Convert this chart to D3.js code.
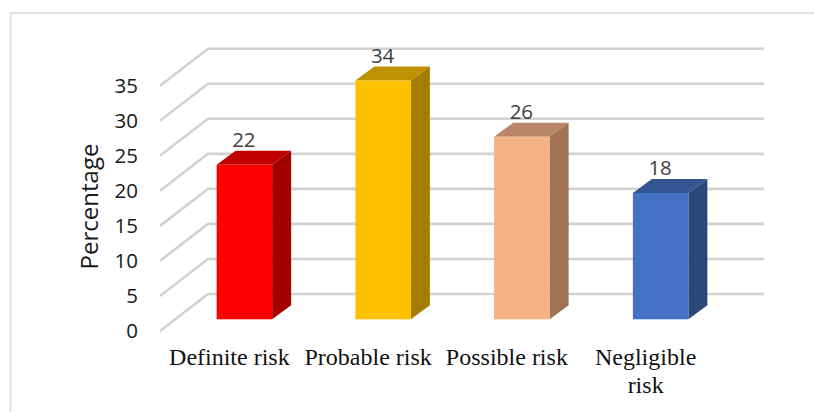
<!DOCTYPE html>
<html>
<head>
<meta charset="utf-8">
<script src="https://cdn.jsdelivr.net/npm/d3@7"></script>
<style>
  html, body { margin: 0; padding: 0; background: #fff; }
  svg { display: block; }
</style>
</head>
<body>
<div id="chart"></div>
<script>
// Values
var categories = ["Definite risk", "Probable risk", "Possible risk", "Negligible risk"];
var values = [22, 34, 26, 18];
var yTicks = [0, 5, 10, 15, 20, 25, 30, 35];
var frontColors = ["#ff0000", "#ffc000", "#f4b183", "#4472c4"];
var sideColors = ["#a50000", "#a67c00", "#9f7353", "#2c4779"];
var topColors = ["#bf0000", "#bf9000", "#b9866a", "#335593"];

var width = 814, height = 412;
var depthX = 19, depthY = 14;      // bar depth
var wallX = 48, wallY = 37;        // floor depth, front edge to back wall

var svg = d3.select("#chart").append("svg")
  .attr("width", width)
  .attr("height", height);

// Chart frame, cropped on the right and at the bottom
svg.append("path")
  .attr("d", "M10.5," + height + "V13H" + width)
  .attr("fill", "none")
  .attr("stroke", "#d9d9d9")
  .attr("stroke-width", 1.6);

var x = d3.scaleBand()
  .domain(categories)
  .range([175, 730])
  .paddingInner(0.6)
  .paddingOuter(0.3);

var yBar = d3.scaleLinear().domain([0, 35]).range([319.3, 73.6]);
var yWall = d3.scaleLinear().domain([0, 35]).range([294, 48.7]);

// Gridlines run along the side wall, then across the back wall
svg.append("g")
  .selectAll("path")
  .data(yTicks)
  .join("path")
  .attr("d", function (d) {
    var yb = yWall(d);
    return "M160," + (yb + wallY) + "L" + (160 + wallX) + "," + yb + "H764";
  })
  .attr("fill", "none")
  .attr("stroke", "#d2d2d2")
  .attr("stroke-width", 2.6);

var yAxis = d3.axisLeft(d3.scaleLinear().domain([0, 35]).range([yWall(0) + wallY, yWall(35) + wallY]))
  .tickValues(yTicks)
  .tickSize(0)
  .tickPadding(0);

svg.append("g")
  .attr("transform", "translate(138,0)")
  .call(yAxis)
  .call(function (g) { g.select(".domain").remove(); })
  .selectAll("text")
  .attr("font-family", "'Open Sans', sans-serif")
  .attr("font-size", 20.5)
  .attr("fill", "#1a1a1a");

svg.append("text")
  .attr("transform", "translate(98,206.5) rotate(-90)")
  .attr("text-anchor", "middle")
  .attr("font-family", "'Open Sans', sans-serif")
  .attr("font-size", 24)
  .attr("fill", "#1a1a1a")
  .text("Percentage");

var bars = svg.append("g")
  .selectAll("g")
  .data(categories)
  .join("g");

// side face
bars.append("path")
  .attr("fill", function (d, i) { return sideColors[i]; })
  .attr("d", function (d, i) {
    var r = x(d) + x.bandwidth(), t = yBar(values[i]), b = yBar(0);
    return "M" + r + "," + t + "l" + depthX + "," + (-depthY) + "V" + (b - depthY) + "L" + r + "," + b + "Z";
  });

// top face
bars.append("path")
  .attr("fill", function (d, i) { return topColors[i]; })
  .attr("d", function (d, i) {
    var l = x(d), t = yBar(values[i]);
    return "M" + l + "," + t + "l" + depthX + "," + (-depthY) + "h" + x.bandwidth() + "l" + (-depthX) + "," + depthY + "Z";
  });

// front face
bars.append("rect")
  .attr("x", function (d) { return x(d); })
  .attr("y", function (d, i) { return yBar(values[i]); })
  .attr("width", x.bandwidth())
  .attr("height", function (d, i) { return yBar(0) - yBar(values[i]); })
  .attr("fill", function (d, i) { return frontColors[i]; });

// value labels
bars.append("text")
  .attr("x", function (d) { return x(d) + x.bandwidth() / 2 - 0.5; })
  .attr("y", function (d, i) { return yBar(values[i]) - 18; })
  .attr("text-anchor", "middle")
  .attr("font-family", "'Open Sans', sans-serif")
  .attr("font-size", 20.5)
  .attr("fill", "#404040")
  .text(function (d, i) { return values[i]; });

// category labels, the last one wraps
var labels = svg.append("g")
  .selectAll("text")
  .data(categories)
  .join("text")
  .attr("y", 365)
  .attr("text-anchor", "middle")
  .attr("font-family", "'Liberation Serif', serif")
  .attr("font-size", 24)
  .attr("fill", "#111");

labels.each(function (d) {
  var el = d3.select(this);
  var cx = x(d) + x.bandwidth() / 2 - 15;
  if (d === "Negligible risk") {
    el.append("tspan").attr("x", cx).text("Negligible");
    el.append("tspan").attr("x", cx).attr("dy", 28).text("risk");
  } else {
    el.attr("x", cx).text(d);
  }
});
</script>
</body>
</html>
